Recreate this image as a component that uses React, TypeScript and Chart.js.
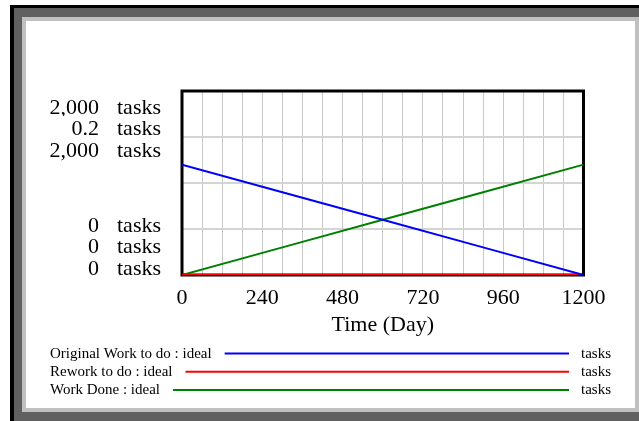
import React, { useEffect, useRef } from "react";
import { Chart, registerables } from "chart.js";

Chart.register(...registerables);

// ---- data ----
const times = [0, 300, 600, 900, 1200];
const originalWork = [1200, 900, 600, 300, 0];
const reworkToDo = [0, 0, 0, 0, 0];
const workDone = [0, 300, 600, 900, 1200];
const xTickLabels = [0, 240, 480, 720, 960, 1200];
const seriesNames = ["Original Work to do : ideal", "Rework to do : ideal", "Work Done : ideal"];
const seriesColors = ["#0000ff", "#ff0000", "#008000"];
const axisMaxLabels = ["2,000", "0.2", "2,000"];
const axisMinLabels = ["0", "0", "0"];
const unitLabel = "tasks";
const xTitle = "Time (Day)";

const SERIF = "'Liberation Serif', 'Times New Roman', serif";

const framePlugin = {
  id: "frame",
  beforeDraw(chart: any) {
    const ctx = chart.ctx;
    const W = chart.width;
    const H = chart.height;
    ctx.save();
    ctx.fillStyle = "#ffffff";
    ctx.fillRect(0, 0, W, H);
    ctx.fillStyle = "#000000";
    ctx.fillRect(10, 5, W - 10, H - 5);
    ctx.fillStyle = "#606060";
    ctx.fillRect(14, 8, W - 14, H - 8);
    ctx.fillStyle = "#c0c0c0";
    ctx.fillRect(22, 17, W - 22, 412 - 17);
    ctx.fillStyle = "#ffffff";
    ctx.fillRect(26, 21, 635 - 26, 408 - 21);
    ctx.restore();
  },
  beforeDatasetsDraw(chart: any) {
    const ctx = chart.ctx;
    const a = chart.chartArea;
    ctx.save();
    ctx.strokeStyle = "#000000";
    ctx.lineWidth = 3;
    ctx.strokeRect(a.left, a.top, a.right - a.left, a.bottom - a.top);
    ctx.restore();
  },
  afterDraw(chart: any) {
    const ctx = chart.ctx;
    const a = chart.chartArea;
    ctx.save();
    ctx.font = `22px ${SERIF}`;
    ctx.fillStyle = "#000";
    ctx.textBaseline = "alphabetic";
    const drawRow = (num: string, base: number, bgTop: number) => {
      if (bgTop > 0) {
        ctx.fillStyle = "#ffffff";
        ctx.fillRect(30, base - bgTop, 145, bgTop + 3);
      }
      ctx.fillStyle = "#000000";
      ctx.textAlign = "right";
      ctx.fillText(num, 99, base);
      ctx.textAlign = "left";
      ctx.fillText(unitLabel, 117, base);
    };
    const topOffsets = [22.5, 44, 66];
    const topBg = [0, 19, 22];
    axisMaxLabels.forEach((t, i) => drawRow(t, a.top + topOffsets[i], topBg[i]));
    const botOffsets = [43, 22, 0];
    axisMinLabels.forEach((t, i) => drawRow(t, a.bottom - botOffsets[i], 0));

    // legend
    ctx.font = `15px ${SERIF}`;
    seriesNames.forEach((name, i) => {
      const base = 358 + i * 18.2;
      ctx.fillStyle = "#000";
      ctx.textAlign = "left";
      ctx.fillText(name, 50, base);
      const w = ctx.measureText(name).width;
      ctx.strokeStyle = seriesColors[i];
      ctx.lineWidth = 2;
      ctx.beginPath();
      ctx.moveTo(50 + w + 13, base - 4.5);
      ctx.lineTo(569, base - 4.5);
      ctx.stroke();
      ctx.fillText(unitLabel, 581, base);
    });
    ctx.restore();
  },
};

export default function App() {
  const ref = useRef<HTMLCanvasElement>(null);
  useEffect(() => {
    document.body.style.margin = "0";
    const canvas = ref.current!;
    const toPts = (ys: number[]) => times.map((t, i) => ({ x: t, y: ys[i] }));
    const chart = new Chart(canvas, {
      type: "line",
      data: {
        datasets: [
          { label: seriesNames[0], data: toPts(originalWork), borderColor: seriesColors[0], borderWidth: 2, pointRadius: 0, yAxisID: "y", tension: 0 },
          { label: seriesNames[1], data: toPts(reworkToDo), borderColor: seriesColors[1], borderWidth: 2, pointRadius: 0, yAxisID: "y1", tension: 0 },
          { label: seriesNames[2], data: toPts(workDone), borderColor: seriesColors[2], borderWidth: 2, pointRadius: 0, yAxisID: "y2", tension: 0 },
        ],
      },
      options: {
        responsive: false,
        animation: false,
        devicePixelRatio: 1,
        layout: { padding: { left: 182, top: 91, right: 55.5, bottom: 83 } },
        plugins: { legend: { display: false }, tooltip: { enabled: false }, title: { display: false } },
        scales: {
          x: {
            type: "linear",
            min: 0,
            max: 1200,
            border: { display: false },
            grid: { color: "#c8c8c8", lineWidth: 1, drawTicks: false },
            ticks: {
              stepSize: 60,
              autoSkip: false,
              maxRotation: 0,
              padding: 10,
              color: "#000",
              font: { family: SERIF, size: 22 },
              callback: (v: any) => (xTickLabels.includes(Number(v)) ? String(v) : ""),
            },
            title: { display: true, text: xTitle, color: "#000", font: { family: SERIF, size: 22 }, padding: { top: 0, bottom: 0 } },
            afterFit: (s: any) => {
              s.height = 63;
            },
          },
          y: {
            min: 0,
            max: 2000,
            border: { display: false },
            grid: { color: "#d4d4d4", lineWidth: 2, drawTicks: false },
            ticks: { stepSize: 500, display: false },
            afterFit: (s: any) => {
              s.width = 0;
            },
          },
          y1: { min: 0, max: 0.2, display: false },
          y2: { min: 0, max: 2000, display: false },
        },
      },
      plugins: [framePlugin],
    });
    return () => chart.destroy();
  }, []);
  return <canvas ref={ref} width={639} height={421} style={{ display: "block", width: 639, height: 421 }} />;
}
